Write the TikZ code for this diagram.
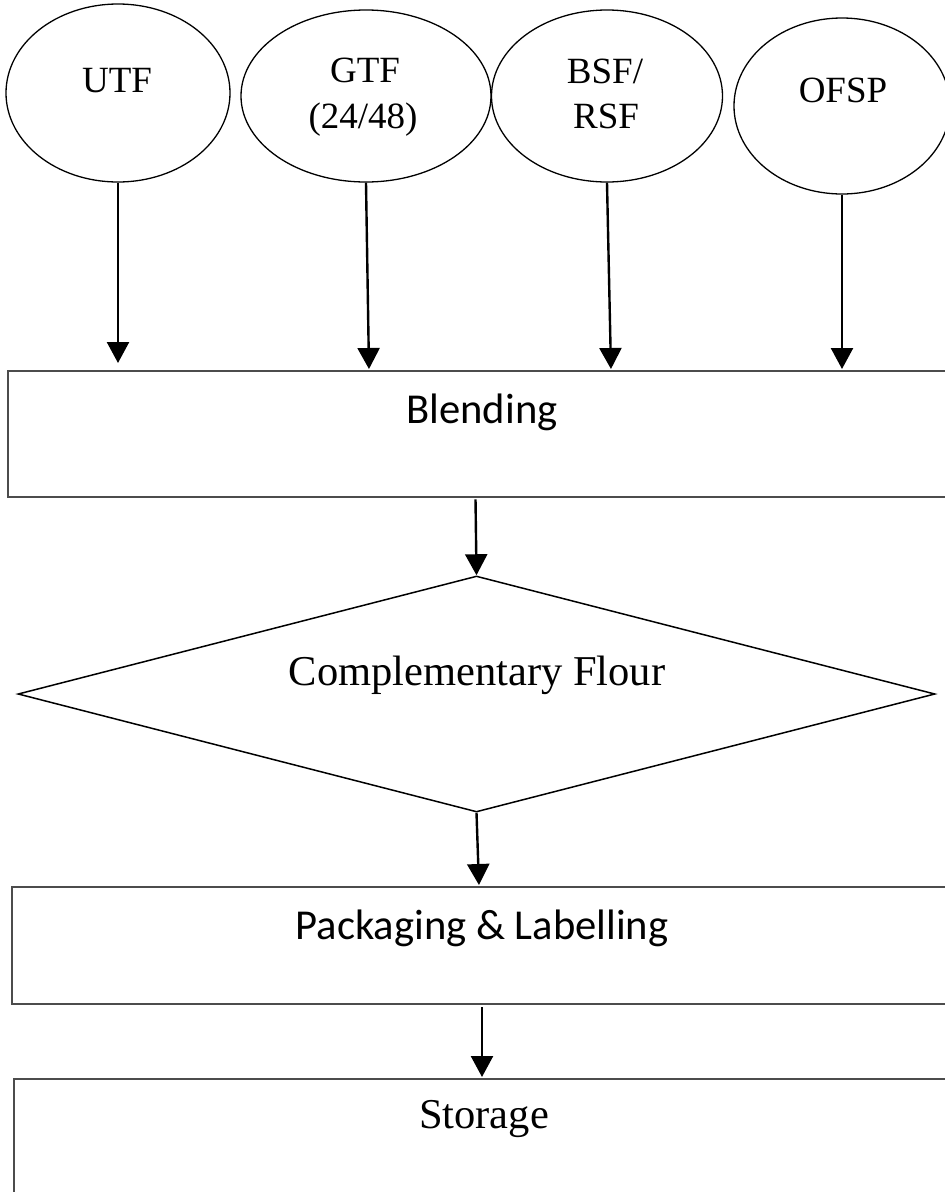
\documentclass[tikz,border=0pt]{standalone}
\usepackage{fontspec}
\setmainfont{Liberation Serif}
\newfontfamily\calfont{Carlito}
\usetikzlibrary{shapes.geometric,arrows.meta}
\begin{document}
\begin{tikzpicture}[x=1pt,y=-1pt,
  ell/.style={draw=black,line width=1.3pt,ellipse,inner sep=0pt},
  procbox/.style={draw=black!70,line width=2.4pt,rectangle,inner sep=0pt},
  decis/.style={draw=black,line width=1.5pt,diamond,inner sep=0pt},
  arr/.style={draw=black,line width=2.4pt,-{Triangle[width=22pt,length=21pt]}},
  elltxt/.style={font=\fontsize{37}{46}\selectfont,anchor=base,inner sep=0pt},
  sertxt/.style={font=\fontsize{42.5}{50}\selectfont,anchor=base,inner sep=0pt},
  caltxt/.style={font=\calfont\fontsize{42.6}{50}\selectfont,anchor=base,inner sep=0pt}]
\useasboundingbox (0,0) rectangle (945,1192);
\clip (0,0) rectangle (945,1192);
\fill[white] (0,0) rectangle (945,1192);
% ellipses
\node[ell,minimum width=224pt,minimum height=178pt] (utf) at (118,93) {};
\node[ell,minimum width=250pt,minimum height=172pt] (gtf) at (366,96) {};
\node[ell,minimum width=231pt,minimum height=172pt] (bsf) at (607,96) {};
\node[ell,minimum width=216pt,minimum height=176pt] (ofsp) at (842,106) {};
\node[elltxt] (utft) at (117,92) {UTF};
\node[elltxt] (gtft1) at (365,82) {GTF};
\node[elltxt] (gtft2) at (363,128) {(24/48)};
\node[elltxt] (bsft1) at (605,83) {BSF/};
\node[elltxt] (bsft2) at (606,128) {RSF};
\node[elltxt] (ofspt) at (843,102) {OFSP};
% boxes
\node[procbox,minimum width=1000pt,minimum height=126pt,anchor=north west] (blend) at (7,370) {};
\node[caltxt] (blendt) at (482,423) {Blending};
\node[decis,minimum width=917pt,minimum height=236pt] (flour) at (476.5,694) {};
\node[sertxt] (flourt) at (477,685) {Complementary Flour};
\node[procbox,minimum width=1000pt,minimum height=117pt,anchor=north west] (pack) at (11,886) {};
\node[caltxt] (packt) at (482,939) {Packaging \& Labelling};
\node[procbox,minimum width=1000pt,minimum height=114pt,anchor=north west] (store) at (13,1078) {};
\node[sertxt] (storet) at (484,1128) {Storage};
% arrows
\draw[arr,shorten >=7pt] (utf.south) -- (utf.south |- blend.north);
\draw[arr,shorten >=1pt] (gtf.south) -- ([xshift=3pt]gtf.south |- blend.north);
\draw[arr,shorten >=1pt] (bsf.south) -- ([xshift=4pt]bsf.south |- blend.north);
\draw[arr,shorten >=1pt] (ofsp.south) -- (ofsp.south |- blend.north);
\draw[arr,shorten <=1pt] ([xshift=-6.5pt]blendt.base |- blend.south) -- (flour.north);
\draw[arr,shorten >=1pt] (flour.south) -- ([xshift=2.5pt]flour.south |- pack.north);
\draw[arr,shorten <=2pt,shorten >=1pt] (packt.base |- pack.south) -- (packt.base |- store.north);
\end{tikzpicture}
\end{document}
